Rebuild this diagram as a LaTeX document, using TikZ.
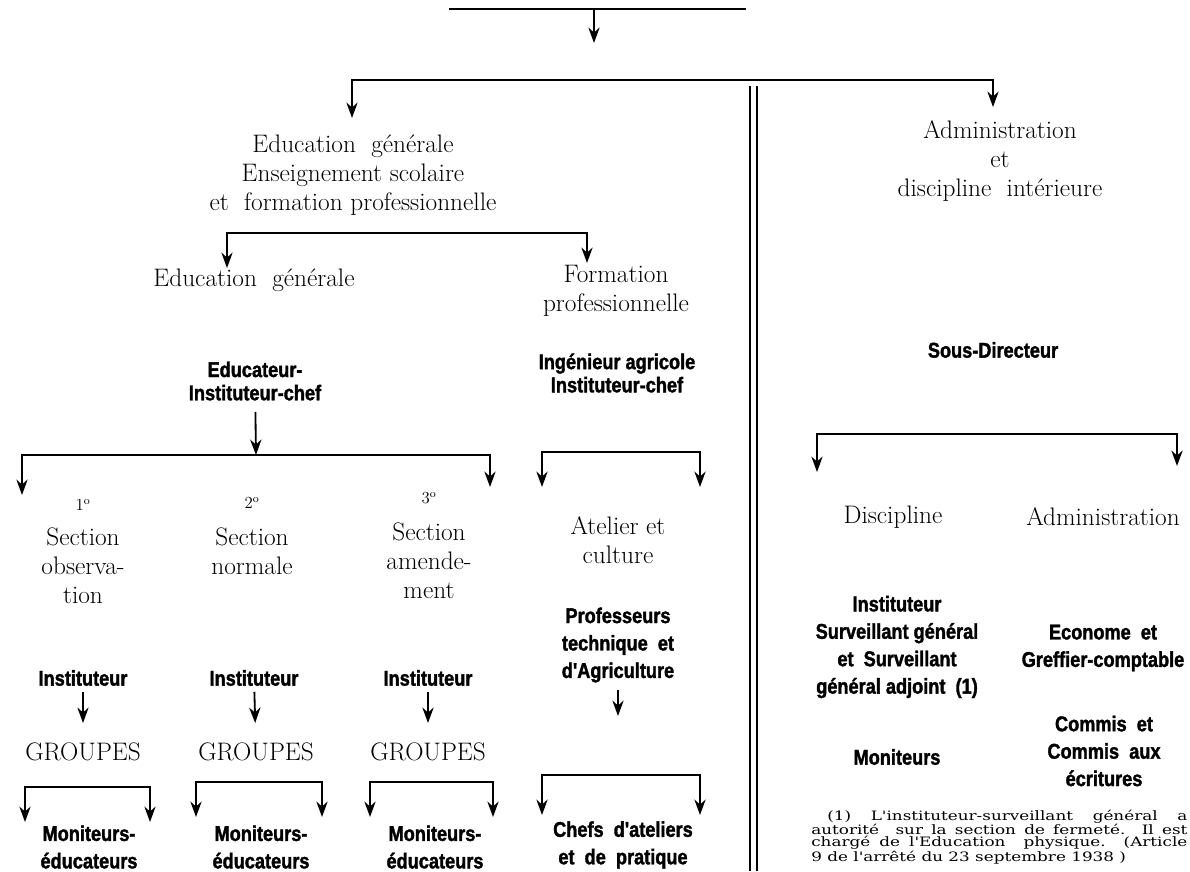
\documentclass[tikz,border=0pt]{standalone}
\usepackage{fontspec}
\usepackage{tikz}
\usetikzlibrary{arrows.meta}
\newfontfamily\heavyfont[FakeStretch=0.85,FakeBold=1.6]{Liberation Sans}
\newfontfamily\notefont[FakeStretch=1.3]{DejaVu Serif}
\tikzstyle{txt}=[align=center,inner sep=0pt,font=\fontsize{18}{20.5}\selectfont]
\tikzstyle{num}=[inner sep=0pt,font=\fontsize{12}{12}\selectfont]
\tikzstyle{role}=[align=center,inner sep=0pt,font=\heavyfont\bfseries\fontsize{15.2}{19.5}\selectfont]
\tikzstyle{role2}=[role,font=\heavyfont\bfseries\fontsize{15.2}{16.5}\selectfont]
\tikzstyle{note}=[align=left,inner sep=0pt,font=\notefont\fontsize{9.2}{8.4}\selectfont]
\tikzstyle{bar}=[line width=2pt,line cap=rect]
\tikzstyle{arr}=[line width=1.3pt,-{Stealth[length=11pt,width=8pt]}]
\newcommand{\fork}[6]{
  \coordinate (#1l) at (#2,#4);
  \coordinate (#1r) at (#3,#4);
  \coordinate (#1lt) at (#2,#5);
  \coordinate (#1rt) at (#3,#6);
  \draw[bar] (#1l) -- (#1r);
  \draw[arr] (#1l) -- (#1lt);
  \draw[arr] (#1r) -- (#1rt);
}
\newlength{\notew}
\setlength{\notew}{9.4cm}

\begin{document}
\begin{tikzpicture}[x=0.025cm,y=-0.025cm]
\useasboundingbox (0,0) rectangle (1190,871);

  \coordinate (topl) at (450,9);
  \coordinate (topr) at (745,9);
  \coordinate (topm) at (594,9);
  \coordinate (topt) at (594,43);
  \draw[bar] (topl) -- (topr);
  \draw[arr] (topm) -- (topt);

  \fork{main}{352}{993}{80}{118}{107}

  \draw[line width=1.2pt] (750,86) -- (750,871);
  \draw[line width=1.2pt] (757,86) -- (757,871);

  \node[txt] (edu) at (353,175) {Education\ \ générale\\Enseignement scolaire\\et\ \ formation professionnelle};
  \node[txt] (adm) at (1000,161) {Administration\\et\\discipline\ \ intérieure};

  \fork{ens}{227}{587}{233}{268}{263}
  \node[txt] (gen) at (254,280) {Education\ \ générale};
  \node[txt] (pro) at (616,291) {Formation\\professionnelle};

  \node[role2] (educ) at (255,381) {Educateur-\\Instituteur-chef};
  \node[role2] (ing) at (617,373) {Ingénieur agricole\\Instituteur-chef};
  \node[role] (sdir) at (993,350) {Sous-Directeur};

  \fork{sec}{22}{490}{455}{495}{487}
  \coordinate (educt) at (256,455);
  \draw[arr,shorten <=8pt] (educ) -- (educt);
  \fork{atl}{542}{700}{452}{487}{487}

  \node[num] (num1) at (83,505) {1\textsuperscript{o}};
  \node[num] (num2) at (252,503) {2\textsuperscript{o}};
  \node[num] (num3) at (429,498) {3\textsuperscript{o}};
  \node[txt] (sec1) at (83,566) {Section\\observa-\\tion};
  \node[txt] (sec2) at (252,551) {Section\\normale};
  \node[txt] (sec3) at (429,561) {Section\\amende-\\ment};
  \node[txt] (atel) at (618,540) {Atelier et\\culture};

  \node[role] (prof) at (618,645) {Professeurs\\technique\ \ et\\d'Agriculture};
  \coordinate (proft) at (618,716);
  \draw[arr,shorten <=5pt] (prof) -- (proft);

  \foreach \i/\x/\xx in {1/83/83,2/254/256,3/428/428}{
    \node[role] (inst\i) at (\x,678) {Instituteur};
    \node[txt] (grp\i) at (\xx,752) {GROUPES};
    \draw[arr,shorten <=4pt,shorten >=14pt] (inst\i) -- (grp\i);
  }

  \fork{ga}{25}{150}{787}{822}{822}
  \fork{gb}{196}{322}{782}{817}{817}
  \fork{gc}{370}{493}{782}{817}{817}
  \fork{gd}{542}{700}{775}{815}{815}

  \node[role] (mon1) at (89,847) {Moniteurs-\\éducateurs};
  \node[role] (mon2) at (261,847) {Moniteurs-\\éducateurs};
  \node[role] (mon3) at (435,847) {Moniteurs-\\éducateurs};
  \node[role] (chefs) at (623,845) {Chefs\ \ d'ateliers\\et\ \ de\ \ pratique};

  \fork{dir}{817}{1177}{434}{472}{466}
  \node[txt] (disc) at (893,517) {Discipline};
  \node[txt] (admi) at (1103,517) {Administration};
  \node[role] (surv) at (897,647) {Instituteur\\Surveillant général\\et\ \ Surveillant\\général adjoint\ \ (1)};
  \node[role] (econ) at (1103,648) {Econome\ \ et\\Greffier-comptable};
  \node[role] (moni) at (897,757) {Moniteurs};
  \node[role] (commis) at (1104,751) {Commis\ \ et\\Commis\ \ aux\\écritures};

  \node[note,anchor=west] (fn) at (811,837) {\makebox[\notew][s]{\hspace*{0.4cm}(1)\ \ L'instituteur-surveillant\ \ général\ \ a}\\
    \makebox[\notew][s]{autorité\ \ sur la section de fermeté.\ \ Il est}\\
    \makebox[\notew][s]{chargé de l'Education\ \ physique.\ \ (Article}\\
    9 de l'arrêté du 23 septembre 1938 )};

\end{tikzpicture}
\end{document}
